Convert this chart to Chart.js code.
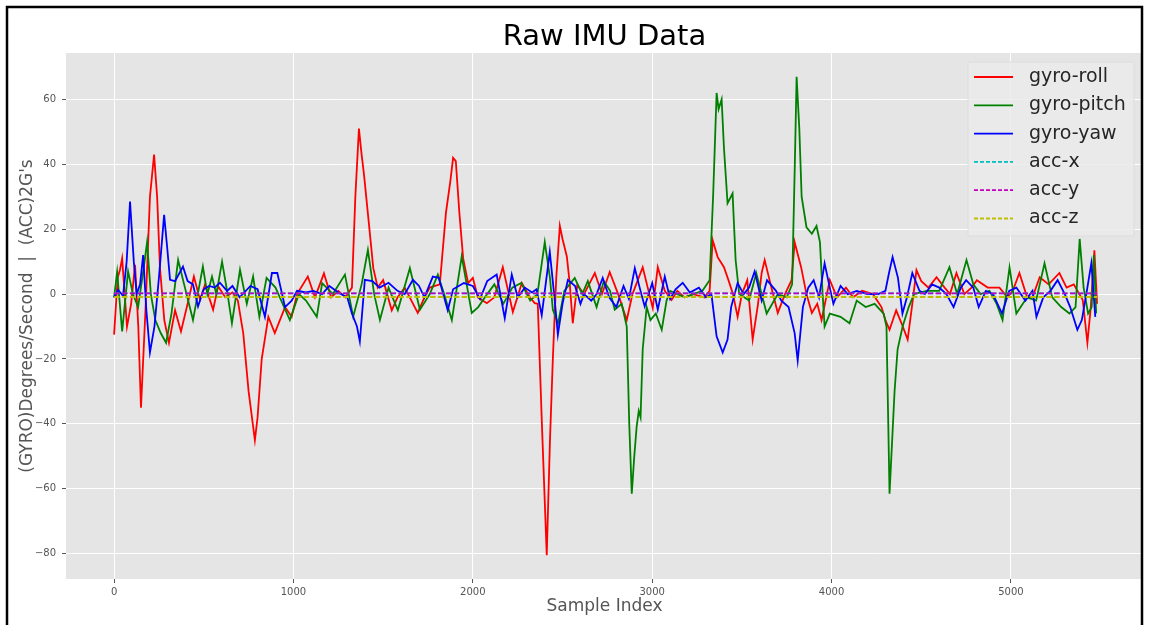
<!DOCTYPE html>
<html lang="en">
<head>
<meta charset="UTF-8">
<title>Raw IMU Data</title>
<script src="https://cdn.jsdelivr.net/npm/chart.js@4.4.0/dist/chart.umd.min.js"></script>
<style>
  html, body { margin: 0; padding: 0; background: #fff; }
  #wrap { position: relative; width: 1151px; height: 625px; }
</style>
</head>
<body>
<div id="wrap"><canvas id="imuChart" width="1151" height="625"></canvas></div>
<script>
// values (sample index -> value)
const rollIdx = [0,20,33,45,72,95,117,135,150,175,200,223,240,256,280,306,340,373,410,445,479,507,552,580,620,660,690,720,750,785,800,823,860,896,953,990,1020,1080,1120,1170,1210,1250,1290,1326,1345,1365,1380,1393,1420,1445,1470,1500,1548,1580,1620,1693,1730,1760,1816,1850,1875,1890,1905,1925,1946,1974,2000,2028,2078,2120,2167,2223,2273,2318,2345,2362,2385,2412,2430,2446,2465,2485,2500,2524,2540,2557,2582,2620,2680,2720,2763,2810,2858,2890,2947,2975,3003,3031,3070,3108,3140,3180,3230,3290,3320,3337,3365,3400,3425,3450,3476,3500,3530,3560,3590,3610,3627,3660,3700,3740,3777,3794,3830,3860,3890,3920,3944,3990,4030,4080,4120,4170,4230,4278,4300,4323,4360,4390,4424,4450,4473,4500,4540,4585,4630,4660,4696,4740,4780,4810,4870,4936,4980,5010,5047,5090,5120,5160,5210,5270,5310,5350,5400,5426,5445,5465,5480];
const rollVal = [-12.5,5,7.5,11,-10,-3,9,-10,-35,-5,30,43,30,8,-8,-15,-5,-11.5,-3,5.4,-1.7,2.9,-4.8,2.4,-1,0.5,-2,-12,-30,-45,-38,-20,-7,-12,-4,-7,0,5.4,-1,6.4,-1,1,-1,2,30,51,43,37,22,8,2,4.3,-5,-1,2,-5.8,-1,2,3,25,35,42,41,25,11,3.4,5,-1,-2.8,-1,8.3,-5.5,3.4,-1,-2.8,-3,-40,-80.5,-45,-20,5,21,17,11.6,3.4,-9,2.8,0,6.5,0,6.8,0,-8,0,8.3,2,-4.3,8.3,1,-1.8,1,-1,0,-1,1,16.6,11.4,8.3,4.3,0,-7,0,4.3,-14,-3,6.5,10.5,3,-5.8,0,4.3,16,8.3,0,-5.8,-3,-8,4.3,-1,2,-1,1,0,-4,-8,-11,-5,-9,-14,-3,7.4,4,2,5.2,2,0,6.5,0,2,4.3,2,2,-1,1,6.5,-1,-1,5.2,3,6.5,2,3,-1.8,-15,-4,13.5,-3];

const pitchIdx = [0,17,45,78,105,134,165,184,205,230,260,290,320,357,395,440,495,520,546,570,602,630,657,702,740,775,810,850,900,940,980,1030,1070,1130,1160,1220,1287,1333,1380,1415,1450,1482,1530,1582,1649,1705,1760,1805,1840,1883,1938,1994,2030,2080,2120,2170,2220,2270,2320,2360,2401,2430,2446,2475,2510,2568,2610,2641,2690,2730,2765,2791,2830,2858,2872,2886,2900,2913,2925,2935,2947,2969,2990,3020,3053,3080,3100,3140,3180,3230,3280,3320,3340,3359,3370,3387,3400,3420,3448,3465,3485,3540,3580,3638,3700,3750,3780,3795,3805,3820,3833,3860,3890,3916,3935,3950,3961,3990,4050,4100,4140,4190,4240,4290,4306,4323,4351,4368,4396,4430,4460,4530,4600,4657,4700,4752,4790,4830,4880,4920,4953,4992,5030,5090,5140,5187,5230,5280,5326,5360,5383,5405,5430,5450,5462,5475];
const pitchVal = [-1,6.8,-11.5,7,0,-4,8,16,0,-8,-12,-15,-6,10.5,2,-8,8.5,0,5.4,0,10,1,-9,7.5,-3,5.4,-7,5,2,-3,-8,0,-2,-7,3.4,0,6,-7,3,13.6,0,-8,2,-5,8,-4.8,0,6,0,-8,11.6,-5.8,-4,0,3,-3,2,3.4,-2,0,16,5,-4.8,-9,1,5,0,4,-4,4,1,-4.8,-3,-10,-40,-61.5,-50,-41,-36,-38,-17,-4,-8,-6,-11,-2,1,0,-1,0,1,4.3,31,62,57,60,45,28,31,10.5,0,-2,6.5,-6,0,-1,3,40,67,51,30,20.6,18.6,21,16,0,-10,-6,-7,-9,-2,-4,-3,-6,-10,-61.5,-30,-17,-10,-4,0,1,1,8.3,0,10.5,3,0,1,-3,-8,8.3,-6,-1,-2,9.5,-1,-4,-6,-4,17,2,-6,-4,12,-6];

const yawIdx = [0,22,50,70,89,110,126,145,162,180,200,225,250,279,295,312,340,384,410,440,468,500,530,560,590,630,660,700,760,800,841,880,910,953,990,1020,1070,1110,1160,1200,1250,1300,1326,1354,1370,1398,1440,1480,1530,1580,1620,1666,1700,1730,1777,1810,1860,1890,1950,2000,2040,2080,2133,2178,2217,2250,2290,2330,2355,2384,2429,2455,2474,2500,2530,2570,2600,2620,2660,2690,2724,2760,2800,2840,2870,2903,2930,2958,3000,3031,3070,3100,3130,3170,3210,3260,3300,3330,3359,3393,3420,3440,3476,3510,3540,3571,3610,3640,3690,3720,3760,3794,3811,3840,3870,3900,3930,3961,3990,4010,4050,4090,4140,4200,4260,4300,4320,4340,4370,4395,4420,4450,4490,4520,4560,4600,4640,4680,4720,4750,4790,4820,4860,4900,4950,4990,5030,5080,5120,5142,5180,5220,5260,5300,5330,5370,5395,5420,5448,5470];
const yawVal = [-1,1.3,-0.5,10,28.5,10,0,3,12,-5,-18,-10,5,24.4,15,4.4,4,8.5,4,3,-3.8,1.5,2.5,2,3.5,1,2.5,-1,2.5,1.5,-7,6.5,6.5,-4,-2,1,0.5,1,0,2.5,0.5,-1,-6,-10,-14.6,4.4,4,2,3.5,1,0,4.4,2.5,-1,5.4,5,-5,1.5,3.4,2.5,-1.5,4,6,-7.4,6,-1,2,0.5,1.5,-6.5,13,-1,-12.5,-3,4.4,2.5,-3,0,-2,0,5,-1,-4,2.5,-1.5,8,2,-3.8,3.4,-4.8,5.4,-1.5,1.5,3.5,0.5,2,-1,0,-13,-18,-14,-4,3.4,0,2,7,-2,4.3,1,-2,-4,-12,-20.5,-4,2,4.3,-1,9.5,2,-3,2.5,0,1,0,0,1,6.5,11.4,5,-6,-1,6.5,1,0,3,2,0,-4,2,4.3,2,-4,1,0,-6,1,2,-2,1,-7,-1,1,4.3,0,-4,-11,-8,0,9.5,-7];

const accIdx = [0, 1000, 2000, 3000, 4000, 5000, 5480];
const accXVal = [0.2, 0.2, 0.2, 0.2, 0.2, 0.2, 0.2];
const accYVal = [0.2, 0.2, 0.2, 0.2, 0.2, 0.2, 0.2];
const accZVal = [-0.9, -0.9, -0.9, -0.9, -0.9, -0.9, -0.9];

const xTickValues = [0, 1000, 2000, 3000, 4000, 5000];
const yTickValues = [-80, -60, -40, -20, 0, 20, 40, 60];

const seriesNames = ['gyro-roll', 'gyro-pitch', 'gyro-yaw', 'acc-x', 'acc-y', 'acc-z'];
const seriesColors = ['#ff0000', '#008000', '#0000ff', '#00bfbf', '#bf00bf', '#bfbf00'];

function pts(xs, ys) {
  return xs.map((x, i) => ({ x: x, y: ys[i] }));
}

const seriesData = [
  pts(rollIdx, rollVal), pts(pitchIdx, pitchVal), pts(yawIdx, yawVal),
  pts(accIdx, accXVal), pts(accIdx, accYVal), pts(accIdx, accZVal)
];

const FONT = "'DejaVu Sans', 'Liberation Sans', sans-serif";

// background, plot panel, title and the black frame of the image
const framePlugin = {
  id: 'frame',
  beforeDraw(chart) {
    const ctx = chart.ctx, a = chart.chartArea;
    ctx.save();
    ctx.fillStyle = '#fff';
    ctx.fillRect(0, 0, chart.width, chart.height);
    ctx.fillStyle = '#e5e5e5';
    ctx.fillRect(a.left, a.top, a.right - a.left, a.bottom - a.top);
    ctx.restore();
  },
  afterDraw(chart) {
    const ctx = chart.ctx, a = chart.chartArea;
    ctx.save();
    // title is centred over the plot panel, as matplotlib does
    ctx.fillStyle = '#000';
    ctx.font = '29px ' + FONT;
    ctx.textAlign = 'center';
    ctx.textBaseline = 'middle';
    ctx.fillText('Raw IMU Data', (a.left + a.right) / 2, 37);
    ctx.strokeStyle = '#000';
    ctx.lineWidth = 2.5;
    ctx.beginPath();
    ctx.moveTo(7, chart.height + 2);
    ctx.lineTo(7, 7);
    ctx.lineTo(1142, 7);
    ctx.lineTo(1142, chart.height + 2);
    ctx.stroke();
    ctx.restore();
  }
};

// matplotlib-like legend box inside the plot
const boxLegend = {
  id: 'boxLegend',
  afterDatasetsDraw(chart) {
    const ctx = chart.ctx, a = chart.chartArea;
    const right = a.right - 9, top = a.top + 9;
    const w = 166, h = 174, left = right - w;
    ctx.save();
    ctx.fillStyle = 'rgba(235,235,235,0.85)';
    ctx.strokeStyle = 'rgba(220,220,220,0.9)';
    ctx.lineWidth = 1;
    ctx.beginPath();
    ctx.rect(left, top, w, h);
    ctx.fill();
    ctx.stroke();
    ctx.font = '19px ' + FONT;
    ctx.textBaseline = 'middle';
    seriesNames.forEach((name, i) => {
      const y = top + 15 + i * 28.3;
      ctx.strokeStyle = seriesColors[i];
      ctx.lineWidth = 1.8;
      ctx.setLineDash(i >= 3 ? [4, 2] : []);
      ctx.beginPath();
      ctx.moveTo(left + 6, y);
      ctx.lineTo(left + 45, y);
      ctx.stroke();
      ctx.setLineDash([]);
      ctx.fillStyle = '#262626';
      ctx.fillText(name, left + 61, y);
    });
    ctx.restore();
  }
};

const datasets = seriesNames.map((name, i) => ({
  label: name,
  data: seriesData[i],
  borderColor: seriesColors[i],
  borderWidth: 1.8,
  borderDash: i >= 3 ? [5.5, 2.4] : [],
  pointRadius: 0,
  tension: 0,
  fill: false,
  order: 6 - i
}));

new Chart(document.getElementById('imuChart'), {
  type: 'line',
  data: { datasets: datasets },
  plugins: [framePlugin, boxLegend],
  options: {
    responsive: false,
    animation: false,
    events: [],
    layout: { padding: { left: 10, right: 8, top: 53, bottom: 0 } },
    plugins: {
      legend: { display: false },
      tooltip: { enabled: false },
      title: { display: false }
    },
    scales: {
      x: {
        type: 'linear',
        min: -268,
        max: 5736,
        afterFit(scale) { scale.height = 46; },
        afterBuildTicks(scale) { scale.ticks = xTickValues.map(v => ({ value: v })); },
        grid: { color: '#ffffff', lineWidth: 1, tickColor: '#555', tickLength: 4, tickWidth: 1 },
        border: { display: false },
        ticks: {
          color: '#555', padding: 3, maxRotation: 0,
          font: { family: FONT, size: 10 },
          callback: v => String(v)
        },
        title: {
          display: true, text: 'Sample Index', color: '#555',
          font: { family: FONT, size: 17 },
          padding: { top: 0, bottom: 8 }
        }
      },
      y: {
        type: 'linear',
        min: -87.8,
        max: 74.3,
        afterFit(scale) { scale.width = 56; },
        afterBuildTicks(scale) { scale.ticks = yTickValues.map(v => ({ value: v })); },
        grid: { color: '#ffffff', lineWidth: 1, tickColor: '#555', tickLength: 4, tickWidth: 1 },
        border: { display: false },
        ticks: {
          color: '#555', padding: 6,
          font: { family: FONT, size: 10 },
          callback: v => String(v).replace('-', '\u2212')
        },
        title: {
          display: true, text: "(GYRO)Degrees/Second  |  (ACC)2G's", color: '#555',
          font: { family: FONT, size: 17 },
          padding: { top: 7, bottom: 0 }
        }
      }
    }
  }
});
</script>
</body>
</html>
